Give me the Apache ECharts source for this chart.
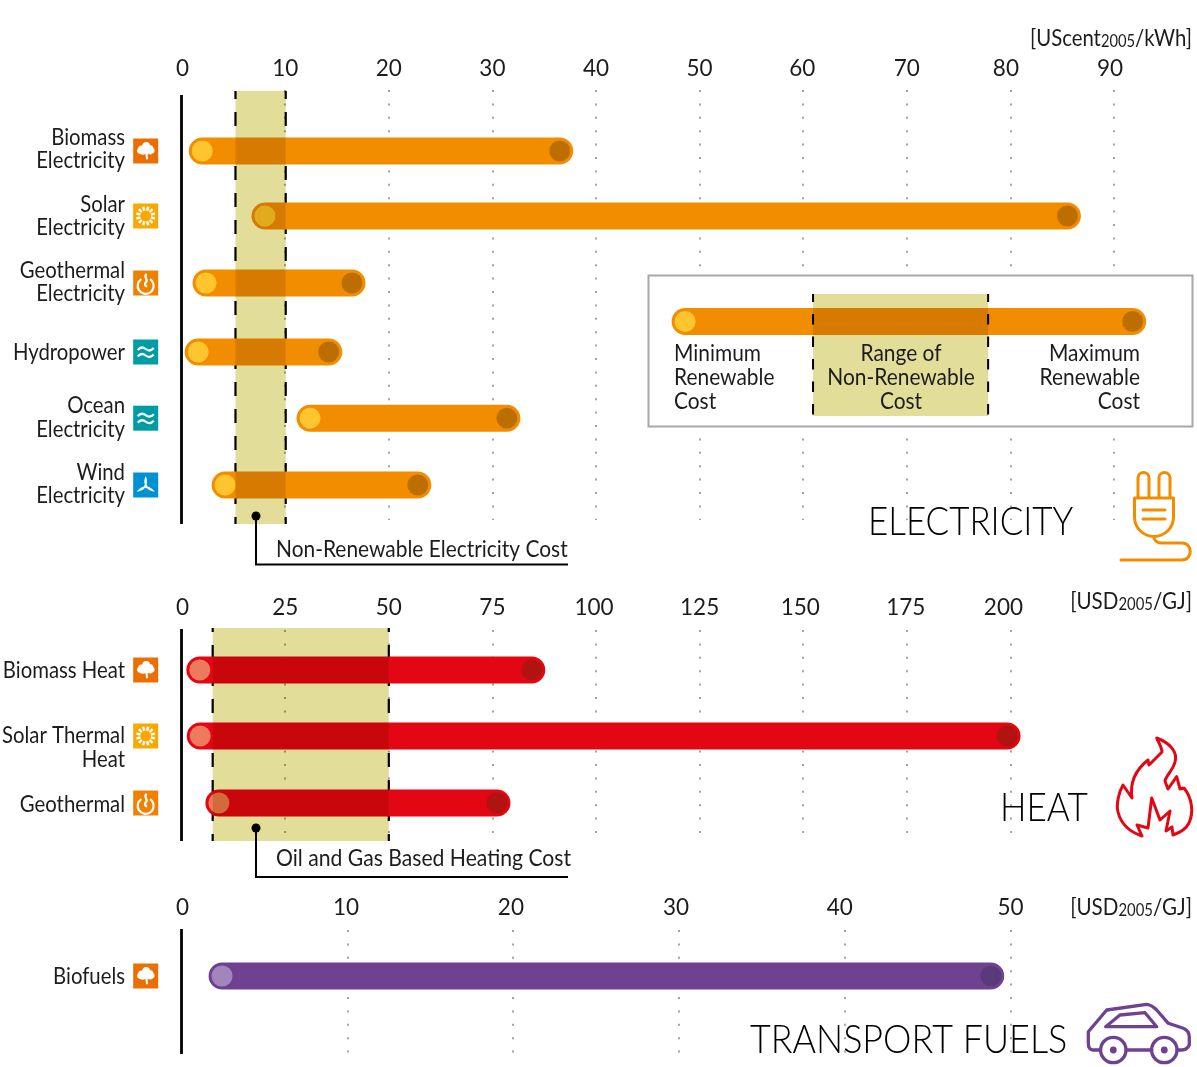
<!DOCTYPE html>
<html><head><meta charset="utf-8">
<style>html,body{margin:0;padding:0;background:#fff}#c{width:1197px;height:1067px}</style>
<script src="https://cdn.jsdelivr.net/npm/echarts@6/dist/echarts.min.js"></script>
</head><body><div id="c"></div>
<script>
// ---- data ----
const elecCategories = ['Biomass\nElectricity','Solar\nElectricity','Geothermal\nElectricity','Hydropower','Ocean\nElectricity','Wind\nElectricity'];
const elecIcons = ['leaf','sun','geo','wave','wave','wind'];
const elecMin = [2.0, 8.05, 2.36, 1.6, 12.4, 4.2];
const elecMax = [36.5, 85.5, 16.45, 14.2, 31.4, 22.8];
const elecBand = [5.2, 10.05];
const elecTicks = [0,10,20,30,40,50,60,70,80,90];

const heatCategories = ['Biomass Heat','Solar Thermal\nHeat','Geothermal'];
const heatIcons = ['leaf','sun','geo'];
const heatMin = [4.4, 4.5, 9];
const heatMax = [84.5, 199.2, 76.1];
const heatBand = [7.5, 50];
const heatTicks = [0,25,50,75,100,125,150,175,200];

const fuelCategories = ['Biofuels'];
const fuelIcons = ['leaf'];
const fuelMin = [2.44];
const fuelMax = [48.8];
const fuelTicks = [0,10,20,30,40,50];

const legendMin = 48.6, legendMax = 91.8;
const legendBand = [60.95, 77.85];

// ---- styling ----
const FONT = 'Lato,"Liberation Sans",sans-serif';
const TXT = '#1c1c1c';
const OX = 181.6;
const palette = {
  elec: {bar:'#f28d00', lo:'#fec52f', hi:'#bc6f00'},
  heat: {bar:'#e30613', lo:'#ee7a5e', hi:'#b01310'},
  fuel: {bar:'#6f4291', lo:'#a285bc', hi:'#5b3a7c'}
};
const bandFill = '#e2de9a';
const iconFill = {leaf:'#ec6e00', sun:'#f8a800', geo:'#f08000', wave:'#009ca6', wind:'#0090d4'};

const panels = [
 {key:'elec',cats:elecCategories,icons:elecIcons,lo:elecMin,hi:elecMax,band:elecBand,ticks:elecTicks,
  shifts:[1,0,0,0,0,0,-1,0,-4.5,-4],top:90,bottom:520,unit:66.8,first:151,axisTop:95,axisBottom:524,bandTop:91,bandBottom:524,
  margin:10,dashOff:6,nudge:[0,-1.8,-1.6,0.6,0,0],labelDy:[-2,0,-1,0,-1,-1]},
 {key:'heat',cats:heatCategories,icons:heatIcons,lo:heatMin,hi:heatMax,band:heatBand,ticks:heatTicks,
  shifts:[1,0,0,0,-2,0,-3,-1,-7],top:630,bottom:841,unit:66.5,first:670,axisTop:629,axisBottom:841,bandTop:628,bandBottom:841,
  margin:11,dashOff:10,nudge:[0,-0.5,0],labelDy:[0,11.5,1]},
 {key:'fuel',cats:fuelCategories,icons:fuelIcons,lo:fuelMin,hi:fuelMax,band:null,ticks:fuelTicks,
  shifts:[1,-1.4,-2.3,-3,-5,0],top:930,bottom:1054,unit:66.5,first:976,axisTop:929,axisBottom:1054,margin:11,nudge:[0],labelDy:[0]}
];
const tickRight = {elec:1114, heat:1010.4, fuel:1010.6};

// ---- icon drawings, in a 25x25 box ----
const sunPath = (function(){let s='';for(let i=0;i<12;i++){const a=(i+0.5)*Math.PI/6;
  s+='M'+(12.5+5.4*Math.cos(a)).toFixed(2)+' '+(12.5+5.4*Math.sin(a)).toFixed(2)+'L'+(12.5+9.6*Math.cos(a)).toFixed(2)+' '+(12.5+9.6*Math.sin(a)).toFixed(2);}return s;})();
const white = {fill:'#fff'}, whiteLine = w => ({fill:null,stroke:'#fff',lineWidth:w});
function iconChildren(kind){
  const rect = {type:'rect',shape:{x:0,y:0,width:25,height:25},style:{fill:iconFill[kind]}};
  const p = (d,style,extra) => Object.assign({type:'path',shape:{pathData:d},style},extra||{});
  switch(kind){
    case 'leaf': return [rect,p('M13 3.5C15.5 3.5 16.8 5.2 16.8 6.8C18.8 6.4 20.4 8 20.2 9.8C22 11 21.8 14.4 19.4 15C18 16.4 15.6 16 14.4 15.2L14.8 20.6L13 21L12.2 15.6C10.6 16.6 8 16.4 6.6 15.2C3.6 15 3 11.4 5 10C5 8 7 6.6 9 7C9.2 5.2 10.6 3.5 13 3.5Z',white)];
    case 'sun': return [rect,p(sunPath,whiteLine(2.4))];
    case 'geo': return [rect,p('M8.2 8.6A8 8 0 1 0 16.8 8.6',whiteLine(2.2)),p('M13.4 3.4C9.6 6.6 15.6 8.8 12.8 11.6C11 13.4 11.6 15.6 14 16',whiteLine(2.2))];
    case 'wave': return [rect,p('M4.5 10.5C7.5 7 10 7.5 12.5 9.5C15 11.5 17.5 12 20.5 8.5',whiteLine(2.2)),p('M4.5 17C7.5 13.5 10 14 12.5 16C15 18 17.5 18.5 20.5 15',whiteLine(2.2))];
    case 'wind': {
      const blade='M12.5 3.5C14 6.5 14.2 9.5 13.4 12.5L11.6 12.5C10.8 9.5 11 6.5 12.5 3.5Z';
      return [rect,
        p(blade,white,{originX:12.5,originY:14}),
        p(blade,white,{originX:12.5,originY:14,rotation:2*Math.PI/3}),
        p(blade,white,{originX:12.5,originY:14,rotation:-2*Math.PI/3}),
        {type:'circle',shape:{cx:12.5,cy:14,r:1.8},style:white}];
    }
  }
}

// ---- axes ----
const grids=[], xAxes=[], yAxes=[], series=[];
panels.forEach((P,i)=>{
  const max=P.ticks[P.ticks.length-1], step=P.ticks[1];
  grids.push({left:OX,top:P.top,width:tickRight[P.key]-OX,height:P.bottom-P.top,containLabel:false});
  const rich={};
  P.ticks.forEach((t,k)=>{const d=P.shifts[k];rich['t'+k]={fontFamily:FONT,fontWeight:400,fontSize:22.5,color:TXT,padding:d<0?[0,-2*d,0,0]:[0,0,0,2*d]};});
  xAxes.push({type:'value',gridIndex:i,position:'top',min:0,max:max,interval:step,
    axisLine:{show:false},axisTick:{show:false},
    axisLabel:{margin:P.margin,fontFamily:FONT,fontWeight:400,fontSize:22.5,color:TXT,rich:rich,
      formatter:v=>'{t'+P.ticks.indexOf(v)+'|'+v+'}'},
    splitLine:{show:true,showMinLine:false,lineStyle:{color:'#a3a3a3',width:2,type:[2,11.4],dashOffset:0}}});
  yAxes.push({type:'value',gridIndex:i,inverse:true,show:false,
    min:-(P.first-P.top)/P.unit,max:(P.bottom-P.first)/P.unit,splitLine:{show:false}});

  const rows=P.lo.map((v,r)=>[v,P.hi[r],r]);
  const c=palette[P.key];
  // band dashes below the bars
  if(P.band){
    series.push({type:'custom',xAxisIndex:i,yAxisIndex:i,z:2,silent:true,data:[P.band],clip:false,
      renderItem:(params,api)=>({type:'group',children:[0,1].map(k=>{
        const x=api.coord([api.value(k),0])[0];
        return {type:'line',shape:{x1:x,y1:P.bandTop,x2:x,y2:P.bandBottom},
          style:{stroke:'#000',lineWidth:2.2,lineDash:[14,13],lineDashOffset:P.dashOff}};})})});
  }
  // bars
  series.push({type:'custom',xAxisIndex:i,yAxisIndex:i,z:3,silent:true,clip:false,data:rows,
    renderItem:(params,api)=>{
      const a=api.coord([api.value(0),api.value(2)]), b=api.coord([api.value(1),api.value(2)]);
      const y=a[1]+P.nudge[params.dataIndex];
      return {type:'group',children:[
        {type:'line',shape:{x1:a[0],y1:y,x2:b[0],y2:y},style:{stroke:c.bar,lineWidth:27,lineCap:'round'}},
        {type:'circle',shape:{cx:a[0],cy:y,r:10.5},style:{fill:c.lo}},
        {type:'circle',shape:{cx:b[0],cy:y,r:10.5},style:{fill:c.hi}}]};
    }});
  // band fill multiplies over the bars
  if(P.band){
    series.push({type:'custom',xAxisIndex:i,yAxisIndex:i,z:4,silent:true,blendMode:'multiply',data:[P.band],clip:false,
      renderItem:(params,api)=>{
        const x1=api.coord([api.value(0),0])[0], x2=api.coord([api.value(1),0])[0];
        return {type:'rect',shape:{x:x1,y:P.bandTop,width:x2-x1,height:P.bandBottom-P.bandTop},
          style:{fill:bandFill}};
      }});
  }
  // zero line
  series.push({type:'custom',xAxisIndex:i,yAxisIndex:i,z:6,silent:true,clip:false,data:[0],
    renderItem:(params,api)=>{
      const x=api.coord([0,0])[0];
      return {type:'line',shape:{x1:x-0.1,y1:P.axisTop,x2:x-0.1,y2:P.axisBottom},style:{stroke:'#000',lineWidth:2.8}};
    }});
  // category labels, icons
  series.push({type:'custom',xAxisIndex:i,yAxisIndex:i,z:6,silent:true,clip:false,data:rows,
    renderItem:(params,api)=>{
      const r=params.dataIndex, y=api.coord([0,api.value(2)])[1]+P.nudge[r];
      return {type:'group',children:[
        {type:'text',x:125,y:y+P.labelDy[r],scaleX:0.865,style:{text:P.cats[r],x:0,y:0,align:'right',verticalAlign:'middle',
          fontFamily:FONT,fontWeight:400,fontSize:23.5,lineHeight:23.5,fill:TXT}},
        {type:'group',x:133.2,y:y-12.5,children:iconChildren(P.icons[r])}]};
    }});
});

// ---- legend box ----
const legendY=321.5;
series.push({type:'custom',xAxisIndex:0,yAxisIndex:0,z:1,silent:true,clip:false,data:[0],
  renderItem:()=>({type:'rect',shape:{x:648.5,y:275.5,width:544,height:151},style:{fill:'#fff',stroke:'#a8a8a8',lineWidth:2}})});
series.push({type:'custom',xAxisIndex:0,yAxisIndex:0,z:3,silent:true,clip:false,data:[[legendMin,legendMax]],
  renderItem:(params,api)=>{
    const a=api.coord([api.value(0),0])[0], b=api.coord([api.value(1),0])[0], c=palette.elec;
    return {type:'group',children:[
      {type:'line',shape:{x1:a,y1:legendY,x2:b,y2:legendY},style:{stroke:c.bar,lineWidth:27,lineCap:'round'}},
      {type:'circle',shape:{cx:a,cy:legendY,r:10.5},style:{fill:c.lo}},
      {type:'circle',shape:{cx:b,cy:legendY,r:10.5},style:{fill:c.hi}}]};
  }});
series.push({type:'custom',xAxisIndex:0,yAxisIndex:0,z:4,silent:true,clip:false,blendMode:'multiply',data:[legendBand],
  renderItem:(params,api)=>{
    const a=api.coord([api.value(0),0])[0], b=api.coord([api.value(1),0])[0];
    return {type:'rect',shape:{x:a,y:294,width:b-a,height:122},style:{fill:bandFill}};
  }});
series.push({type:'custom',xAxisIndex:0,yAxisIndex:0,z:5,silent:true,clip:false,data:[legendBand],
  renderItem:(params,api)=>({type:'group',children:[0,1].map(k=>{
    const x=api.coord([api.value(k),0])[0];
    return {type:'line',shape:{x1:x,y1:294,x2:x,y2:416},style:{stroke:'#000',lineWidth:2,lineDash:[10.5,12],lineDashOffset:2.5}};})})});

// ---- texts, callouts and big pictograms ----
const t=(text,x,y,size,align,sx,weight,fill)=>({type:'text',x:x,y:y,scaleX:sx,style:{text,x:0,y:0,align:align||'left',verticalAlign:'middle',
  fontFamily:FONT,fontWeight:weight||400,fontSize:size,fill:fill||TXT,lineHeight:24}});
const unit=(a,b,y,sx)=>({type:'text',x:1192,y:y,scaleX:sx,style:{text:'{m|'+a+'}{s|2005}{m|'+b+'}',x:0,y:0,align:'right',verticalAlign:'middle',
  rich:{m:{fontFamily:FONT,fontWeight:400,fontSize:23.5,fill:TXT},s:{fontFamily:FONT,fontWeight:400,fontSize:17,fill:TXT,verticalAlign:'bottom',padding:[6,0,0,0]}}}});
const stroke=(d,color,w)=>({type:'path',shape:{pathData:d},style:{fill:null,stroke:color,lineWidth:w||3,lineCap:'round',lineJoin:'round'}});
const blk={stroke:'#000',lineWidth:2,fill:null};
series.push({type:'custom',xAxisIndex:0,yAxisIndex:0,z:7,silent:true,clip:false,data:[0],
  renderItem:()=>({type:'group',children:[
    unit('[UScent','/kWh]',38,0.865), unit('[USD','/GJ]',601,0.875), unit('[USD','/GJ]',907,0.875),
    t('ELECTRICITY',868,522,39,'left',0.895,300,'#000'), t('HEAT',1000,808,39,'left',0.9,300,'#000'), t('TRANSPORT FUELS',750,1040,39,'left',0.92,300,'#000'),
    t('Minimum\nRenewable\nCost',674,377,23.5,'left',0.89),
    t('Range of\nNon-Renewable\nCost',901,377,23.5,'center',0.89),
    t('Maximum\nRenewable\nCost',1140,377,23.5,'right',0.89),
    t('Non-Renewable Electricity Cost',276,549,23.5,'left',0.89),
    t('Oil and Gas Based Heating Cost',276,858,23.5,'left',0.9),
    {type:'circle',shape:{cx:256,cy:516,r:4.5},style:{fill:'#000'}},
    {type:'polyline',shape:{points:[[256,516],[256,564.5],[568,564.5]]},style:blk},
    {type:'circle',shape:{cx:256,cy:828,r:4.5},style:{fill:'#000'}},
    {type:'polyline',shape:{points:[[256,828],[256,877],[568,877]]},style:blk},
    // plug
    stroke('M1138 498V478A5.5 5.5 0 0 1 1149 478V498M1159 498V478A5.5 5.5 0 0 1 1170 478V498M1134.5 498H1173.5V517A19.5 19.5 0 0 1 1134.5 517ZM1143 510H1165M1143 519H1165M1154 536.5C1154 541 1158 543 1162 543H1182C1193 543 1193 560 1182 560H1121',palette.elec.bar),
    // flame
    stroke('M1156.7 738C1170 743 1178 752 1175 762C1173 770 1166 776 1165 781L1168 789L1176.7 776.7L1180 789L1184 788C1192 798 1194 812 1189 823C1186 829 1179 833 1173 835L1172 827L1166 831L1170 811L1160 820L1151.7 798L1148 828L1137 825L1142 836C1130 832 1121 824 1118 812C1116 804 1119 792 1123 785L1132 798C1130 785 1133 772 1148 760L1149 765L1162 752C1162 748 1159 743 1156.7 738Z',palette.heat.bar),
    // car
    stroke('M1100 1050H1093Q1088.3 1050 1088.3 1043V1031.7L1106.7 1010L1146.7 1004.3Q1152 1005 1156.7 1010L1168.3 1023.3L1183.3 1028.3Q1189.3 1031 1189.3 1036.7V1045Q1187 1050 1181.7 1050H1177M1126 1050H1151.7M1105.7 1026.7H1156.7L1145 1012.7L1120 1015Z',palette.fuel.bar,3.3),
    {type:'circle',shape:{cx:1113.3,cy:1050,r:12.7},style:{fill:null,stroke:palette.fuel.bar,lineWidth:3.3}},
    {type:'circle',shape:{cx:1164.3,cy:1050,r:12.7},style:{fill:null,stroke:palette.fuel.bar,lineWidth:3.3}},
    {type:'circle',shape:{cx:1113.3,cy:1050,r:3.4},style:{fill:palette.fuel.bar}},
    {type:'circle',shape:{cx:1164.3,cy:1050,r:3.4},style:{fill:palette.fuel.bar}}
  ]})});

const chart=echarts.init(document.getElementById('c'),null,{renderer:'canvas'});
chart.setOption({animation:false,backgroundColor:'#fff',tooltip:{show:false},grid:grids,xAxis:xAxes,yAxis:yAxes,series:series});
</script></body></html>
